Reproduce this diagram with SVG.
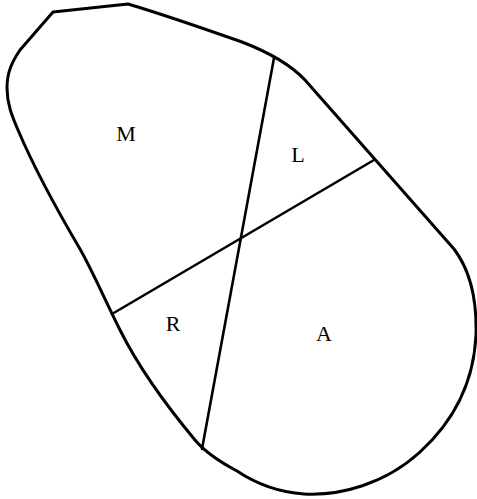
<svg xmlns="http://www.w3.org/2000/svg" width="477" height="499" viewBox="0 0 477 499">
<style>
.o{fill:none;stroke:#000;stroke-width:3;stroke-linejoin:round;stroke-linecap:round}
.d{fill:none;stroke:#000;stroke-width:2.6;stroke-linecap:round}
.t{font-family:"Liberation Serif","DejaVu Serif",serif;font-size:22px;fill:#000;text-anchor:middle}
</style>
<rect width="477" height="499" fill="#fff"/>
<g id="outline">
<path class="o" d="M 53,12 L 128,4 C 165,15 205,29 242,42 C 268,52 290,64 305,80 L 454,249 C 470,270 477,300 476,335 C 474,380 455,420 420,452 C 385,484 340,496 304,494 C 275,492 252,481 237,471 C 220,462 205,452 195,440 C 170,410 140,370 120,330 C 105,300 92,270 80,249 C 60,215 35,170 18,130 C 12,116 7,104 7,88 C 7,72 12,62 20,50 L 53,12 Z"/>
</g>
<g id="connectors">
<line class="d" x1="274" y1="58" x2="202" y2="449"/>
<line class="d" x1="112" y1="314" x2="374" y2="160"/>
</g>
<g id="M"><text class="t" x="126" y="141">M</text></g>
<g id="L"><text class="t" x="298" y="162">L</text></g>
<g id="R"><text class="t" x="173" y="331">R</text></g>
<g id="A"><text class="t" x="324" y="341">A</text></g>
</svg>
